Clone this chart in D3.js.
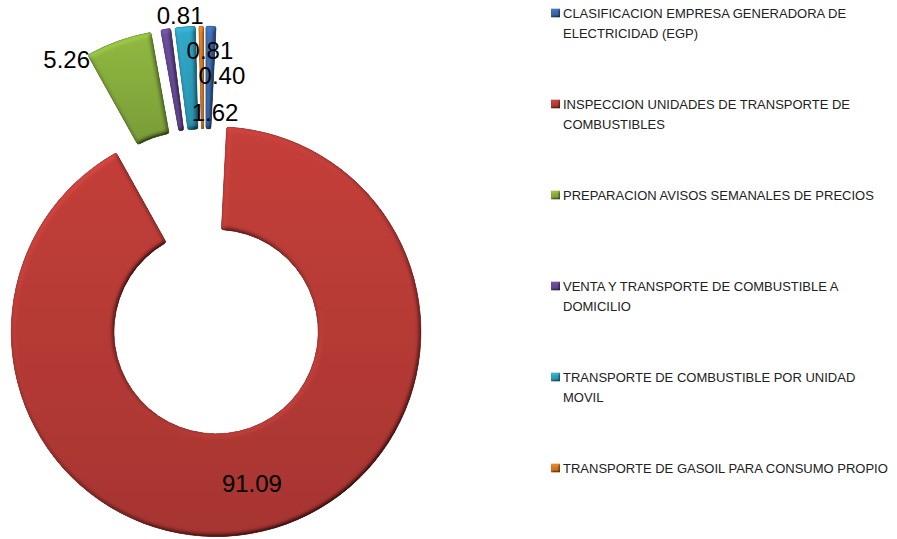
<!DOCTYPE html>
<html lang="es">
  <head>
    <meta charset="utf-8" />
    <title>Distribucion de servicios</title>
    <script src="https://cdn.jsdelivr.net/npm/d3@7"></script>
    <style>
      body { margin: 0; background: #fff; }
      svg { display: block; }
    </style>
  </head>
  <body>
    <div id="chart"></div>
    <script>
      // data
      var categories = [
        "CLASIFICACION EMPRESA GENERADORA DE ELECTRICIDAD (EGP)",
        "INSPECCION UNIDADES DE TRANSPORTE DE COMBUSTIBLES",
        "PREPARACION AVISOS SEMANALES DE PRECIOS",
        "VENTA Y TRANSPORTE DE COMBUSTIBLE A DOMICILIO",
        "TRANSPORTE DE COMBUSTIBLE POR UNIDAD MOVIL",
        "TRANSPORTE DE GASOIL PARA CONSUMO PROPIO",
      ];
      var values = [0.81, 91.09, 5.26, 0.81, 1.62, 0.4];

      // styles / layout
      var colors = ["#3d6db0", "#bf3d38", "#8cb43f", "#6a4c9a", "#2fa5c5", "#e07b22"];
      // label placement: [angle in degrees, distance] from each exploded slice centre
      var labelPos = [[1.3, 181], [166.7, 156], [325.3, 212], [355.6, 217], [6.9, 120], [6.6, 157]];

      var width = 897, height = 539;
      var cx = 204.5, cy = 282;
      var outer = 205, inner = 102, explode = 51;

      var svg = d3
        .select("#chart")
        .append("svg")
        .attr("width", width)
        .attr("height", height);

      var defs = svg.append("defs");
      function bevel(id, blur, scale) {
        var f = defs
          .append("filter")
          .attr("id", id)
          .attr("x", "-10%")
          .attr("y", "-10%")
          .attr("width", "120%")
          .attr("height", "120%");
        f.append("feGaussianBlur")
          .attr("in", "SourceAlpha")
          .attr("stdDeviation", blur)
          .attr("result", "blur");
        f.append("feDiffuseLighting")
          .attr("in", "blur")
          .attr("surfaceScale", scale)
          .attr("diffuseConstant", 1)
          .attr("lighting-color", "#fff")
          .attr("result", "light")
          .append("feDistantLight")
          .attr("azimuth", 235)
          .attr("elevation", 55);
        f.append("feComposite")
          .attr("in", "SourceGraphic")
          .attr("in2", "light")
          .attr("operator", "arithmetic")
          .attr("k1", 1.22)
          .attr("k2", 0)
          .attr("k3", 0)
          .attr("k4", 0)
          .attr("result", "lit");
        f.append("feComposite")
          .attr("in", "lit")
          .attr("in2", "SourceAlpha")
          .attr("operator", "in");
      }
      bevel("bevel", 2.5, 4);
      bevel("bevelSmall", 1, 2);

      // top-to-bottom shading for every colour
      colors.forEach(function (c, i) {
        var lg = defs
          .append("linearGradient")
          .attr("id", "grad" + i)
          .attr("x1", 0)
          .attr("y1", 0)
          .attr("x2", 0)
          .attr("y2", 1);
        lg.append("stop").attr("offset", "0%").attr("stop-color", d3.color(c).brighter(0.08));
        lg.append("stop").attr("offset", "100%").attr("stop-color", d3.color(c).darker(0.4));
      });

      var pie = d3
        .pie()
        .sort(null)
        .value(function (d) {
          return d;
        });
      var arcs = pie(values);

      var arc = d3.arc().innerRadius(inner).outerRadius(outer).cornerRadius(2);

      function mid(d) {
        return (d.startAngle + d.endAngle) / 2;
      }
      function shift(d) {
        var a = mid(d);
        return [Math.sin(a) * explode, -Math.cos(a) * explode];
      }

      var g = svg.append("g").attr("transform", "translate(" + cx + "," + cy + ")");

      g.selectAll("path.slice")
        .data(arcs)
        .enter()
        .append("path")
        .attr("class", "slice")
        .attr("transform", function (d) {
          return "translate(" + shift(d) + ")";
        })
        .attr("d", arc)
        .attr("fill", function (d, i) {
          return "url(#grad" + i + ")";
        })
        .attr("stroke", function (d, i) {
          return d3.color(colors[i]).darker(1);
        })
        .attr("stroke-width", 0.7)
        .attr("filter", "url(#bevel)");

      // data labels drawn above all slices
      g.selectAll("text.val")
        .data(arcs)
        .enter()
        .append("text")
        .attr("class", "val")
        .attr("x", function (d, i) {
          return shift(d)[0] + Math.sin((labelPos[i][0] * Math.PI) / 180) * labelPos[i][1];
        })
        .attr("y", function (d, i) {
          return shift(d)[1] - Math.cos((labelPos[i][0] * Math.PI) / 180) * labelPos[i][1];
        })
        .attr("text-anchor", "middle")
        .attr("dominant-baseline", "central")
        .style("font-family", "'Liberation Sans', Arial, sans-serif")
        .style("font-size", "24px")
        .attr("fill", "#000")
        .text(function (d) {
          return d3.format(".2f")(d.data);
        });

      // legend
      var legend = svg
        .append("g")
        .attr("transform", "translate(551,13)");

      var items = legend
        .selectAll("g.item")
        .data(categories)
        .enter()
        .append("g")
        .attr("class", "item")
        .attr("transform", function (d, i) {
          return "translate(0," + i * 91 + ")";
        });

      items
        .append("rect")
        .attr("x", 0)
        .attr("y", -4.5)
        .attr("width", 9)
        .attr("height", 9)
        .attr("fill", function (d, i) {
          return "url(#grad" + i + ")";
        })
        .attr("filter", "url(#bevelSmall)");

      items.each(function (name) {
        var t = d3
          .select(this)
          .append("text")
          .attr("x", 12)
          .attr("y", 0)
          .attr("dominant-baseline", "central")
          .style("font-family", "'Liberation Sans', Arial, sans-serif")
          .style("font-size", "13px")
          .attr("fill", "#222");
        var words = name.split(" ");
        var line = [];
        var lineNo = 0;
        var span = t.append("tspan").attr("x", 12).attr("y", 0);
        words.forEach(function (w) {
          line.push(w);
          span.text(line.join(" "));
          if (span.node().getComputedTextLength() > 330 && line.length > 1) {
            line.pop();
            span.text(line.join(" "));
            line = [w];
            lineNo++;
            span = t
              .append("tspan")
              .attr("x", 12)
              .attr("y", lineNo * 20)
              .text(w);
          }
        });
      });
    </script>
  </body>
</html>
